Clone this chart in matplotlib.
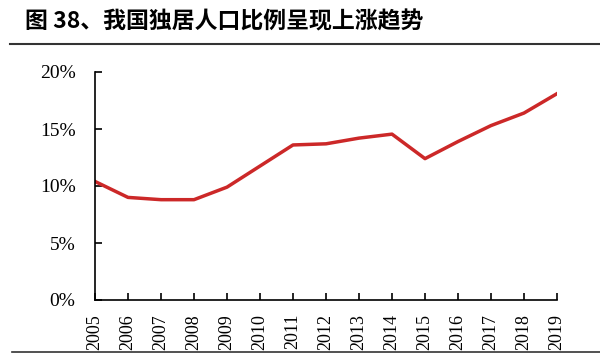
import matplotlib.pyplot as plt
from matplotlib.lines import Line2D

years = list(range(2005, 2020))
ratio = [10.4, 9.0, 8.8, 8.8, 9.9, 11.75, 13.6, 13.7, 14.2, 14.55, 12.4, 13.9, 15.3, 16.4, 18.1]
yticks = [0, 5, 10, 15, 20]
title = '图 38、我国独居人口比例呈现上涨趋势'

fig = plt.figure(figsize=(6, 3.57), dpi=100)
ax = fig.add_axes([95 / 600, 1 - 300 / 357, (557 - 95) / 600, (300 - 72) / 357])

ax.plot(years, ratio, color='#cc2828', linewidth=2.5)

ax.set_xlim(2005, 2019)
ax.set_ylim(0, 20)
ax.set_xticks(years)
ax.set_xticklabels([str(y) for y in years], rotation=90, fontsize=13, family='Liberation Serif')
ax.set_yticks(yticks)
ax.set_yticklabels([f'{v}%' for v in yticks], fontsize=14, family='Liberation Serif')
ax.tick_params(direction='in', length=5, width=1.2, colors='black')
ax.tick_params(axis='x', pad=10)
ax.tick_params(axis='y', pad=14)
for s in ['top', 'right']:
    ax.spines[s].set_visible(False)
for s in ['left', 'bottom']:
    ax.spines[s].set_linewidth(1.2)

fig.text(25 / 600, 1 - 22 / 357, title, fontsize=16.5, fontweight='bold',
         family=['Noto Sans CJK SC', 'DejaVu Sans'], va='center', ha='left')
fig.add_artist(Line2D([10 / 600, 1], [1 - 44 / 357] * 2, color='#333333', linewidth=1.5))
fig.add_artist(Line2D([12 / 600, 1], [1 - 352 / 357] * 2, color='#333333', linewidth=1.2))

fig.savefig('out.png', dpi=100)
